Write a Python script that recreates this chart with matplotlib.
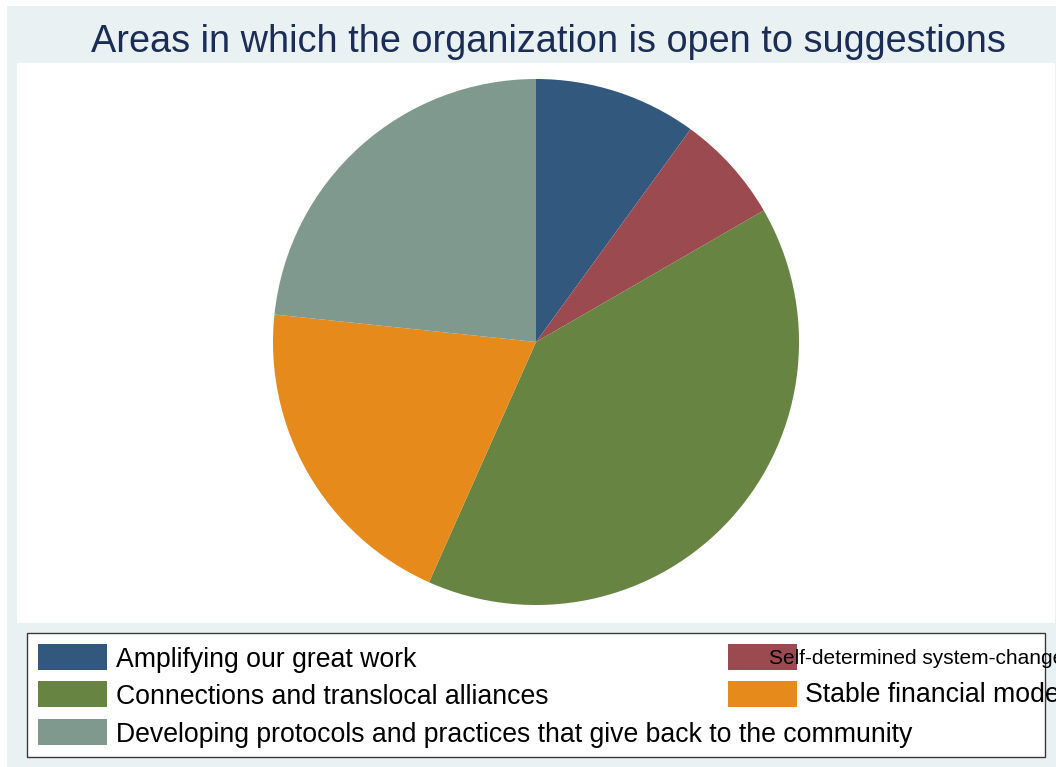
import matplotlib
matplotlib.use("Agg")
import matplotlib.pyplot as plt
import matplotlib.patches as mpatches

plt.rcParams["font.family"] = ["Liberation Sans", "DejaVu Sans"]

# responses per area (30 in total)
labels = [
    "Amplifying our great work",
    "Self-determined system-change",
    "Connections and translocal alliances",
    "Stable financial model",
    "Developing protocols and practices that give back to the community",
]
counts = [3, 2, 12, 6, 7]
colors = ["#33587D", "#9B4A50", "#678442", "#E68A1C", "#7F998E"]

title = "Areas in which the organization is open to suggestions"

W, H = 1056, 767
BG = "#EAF1F3"
TITLE_C = "#1C2D55"


def fbox(x0, y0, x1, y1):
    """pixel box (top-left origin) -> figure fraction rect"""
    return [x0 / W, 1 - y1 / H, (x1 - x0) / W, (y1 - y0) / H]


fig = plt.figure(figsize=(W / 100, H / 100), dpi=100, facecolor="white")

# full-figure overlay in pixel coordinates for the frame, title and legend
ov = fig.add_axes([0, 0, 1, 1], zorder=0)
ov.set_xlim(0, W)
ov.set_ylim(H, 0)
ov.axis("off")
ov.add_patch(mpatches.Rectangle((7, 6), W - 7, H - 6, facecolor=BG, edgecolor="none"))
ov.add_patch(mpatches.Rectangle((17, 63), 1038, 560, facecolor="white", edgecolor="none"))

ov.text(548.5, 52, title, color=TITLE_C, fontsize=27.3, ha="center", va="baseline")

# pie
ax = fig.add_axes(fbox(536 - 263, 342 - 263, 536 + 263, 342 + 263), zorder=1)
ax.pie(counts, colors=colors, startangle=90, counterclock=False,
       wedgeprops=dict(linewidth=0.4, edgecolor="none"))
ax.set_xlim(-1, 1)
ax.set_ylim(-1, 1)
ax.set_aspect("equal")
ax.axis("off")

# legend box
lg = fig.add_axes([0, 0, 1, 1], zorder=2)
lg.set_xlim(0, W)
lg.set_ylim(H, 0)
lg.axis("off")
lg.patch.set_alpha(0)
lg.add_patch(mpatches.Rectangle((27, 633), 1018, 124, facecolor="white",
                                edgecolor="#3a3a3a", linewidth=1.0))

# key positions: (key_x, key_y, text_x, baseline, fontsize)
slots = [
    (38, 644, 116, 667, 19.2),
    (728, 644, 769, 664, 15),
    (38, 681, 116, 704, 19.2),
    (728, 681, 805, 702, 19.2),
    (38, 719, 116, 742, 19.2),
]
for (kx, ky, tx, tb, fs), lab, col in zip(slots, labels, colors):
    lg.add_patch(mpatches.Rectangle((kx, ky), 69, 26, facecolor=col, edgecolor="none"))
    lg.text(tx, tb, lab, fontsize=fs, color="black", ha="left", va="baseline",
            clip_on=False)

fig.savefig("out.png", dpi=100, facecolor="white")
